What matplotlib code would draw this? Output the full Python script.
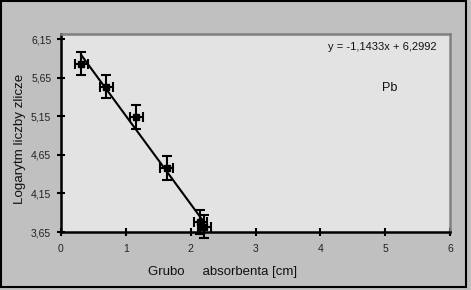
import matplotlib
matplotlib.use("Agg")
import matplotlib.pyplot as plt
from matplotlib.patches import Rectangle
import numpy as np

plt.rcParams['font.family'] = ['Liberation Sans', 'DejaVu Sans']

thickness = [0.31, 0.70, 1.16, 1.63, 2.15, 2.21]
log_counts = [5.83, 5.53, 5.14, 4.48, 3.78, 3.72]
x_err = [0.10, 0.10, 0.10, 0.10, 0.10, 0.10]
y_err = [0.15, 0.15, 0.15, 0.15, 0.15, 0.15]
slope, intercept = -1.1433, 6.2992
xticks = [0, 1, 2, 3, 4, 5, 6]
yticks = [3.65, 4.15, 4.65, 5.15, 5.65, 6.15]

fig = plt.figure(figsize=(4.71, 2.90), dpi=100)
fig.patch.set_facecolor('#C0C0C0')
fig.patches.append(Rectangle((0.002, 0.01), 0.988, 0.985, transform=fig.transFigure,
                             fill=False, edgecolor='black', linewidth=1.5))

ax = fig.add_axes([61/471, 1-232/290, (450-61)/471, (232-34)/290])
ax.set_facecolor('#E3E3E3')
ax.set_xlim(0, 6)
ax.set_ylim(3.65, 6.215)

xs = np.array([min(thickness), max(thickness)])
ax.plot(xs, slope*xs + intercept, color='black', linewidth=1.5, zorder=2)
ax.errorbar(thickness, log_counts, xerr=x_err, yerr=y_err, fmt='s', color='black',
            markersize=4, elinewidth=1.5, capsize=3.5, capthick=1.5, clip_on=False, zorder=3)

ax.set_xticks(xticks)
ax.set_xticklabels([str(t) for t in xticks])
ax.set_yticks(yticks)
ax.set_yticklabels([f"{t:.2f}".replace('.', ',') for t in yticks])
ax.tick_params(direction='inout', length=6, width=1.5, labelsize=7.5, colors='black',
               labelcolor='#222222', pad=4)
ax.tick_params(axis='x', pad=6)

for s in ['left', 'bottom']:
    ax.spines[s].set_color('black')
    ax.spines[s].set_linewidth(1.8)
for s in ['top', 'right']:
    ax.spines[s].set_color('#808080')
    ax.spines[s].set_linewidth(1.8)

ax.set_xlabel('Grubo     absorbenta [cm]', fontsize=9.5, color='#111111')
ax.xaxis.set_label_coords(0.4165, -0.202)
ax.xaxis.label.set_va('center')
ax.set_ylabel('Logarytm liczby zlicze', fontsize=9.6, color='#111111')
ax.yaxis.set_label_coords(-0.106, 0.47)
ax.yaxis.label.set_va('center')

ax.text(0.965, 0.932, 'y = -1,1433x + 6,2992', transform=ax.transAxes, ha='right',
        va='center', fontsize=8, color='#111111')
ax.text(0.846, 0.725, 'Pb', transform=ax.transAxes, ha='center', va='center',
        fontsize=9, color='#111111')

fig.savefig('out.png', dpi=100, facecolor=fig.get_facecolor())
